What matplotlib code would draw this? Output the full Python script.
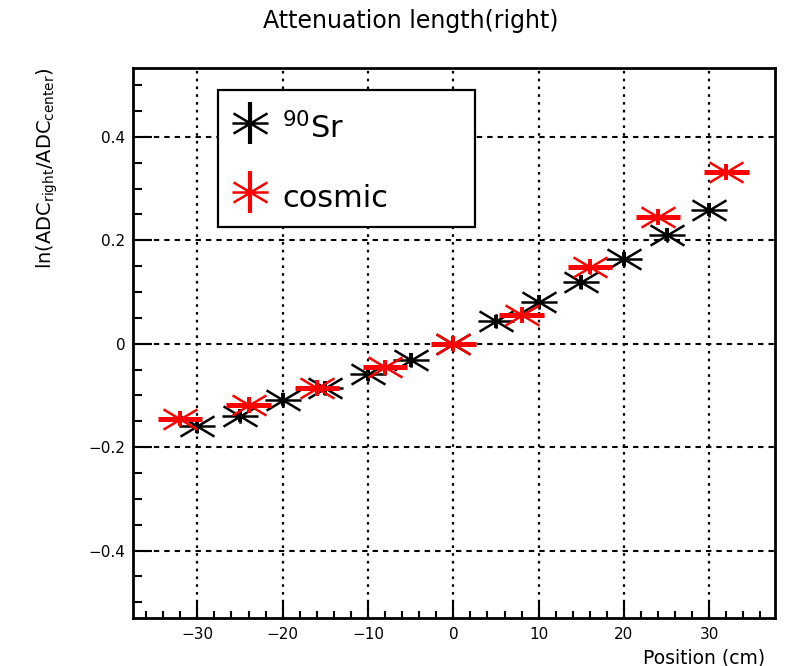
import matplotlib
matplotlib.use("Agg")
import matplotlib.pyplot as plt
import numpy as np
from matplotlib.path import Path
from matplotlib.patches import Rectangle
from matplotlib.ticker import MultipleLocator, FixedLocator, FuncFormatter

# data
sr_pos = [-30, -25, -20, -15, -10, -5, 0, 5, 10, 15, 20, 25, 30]
sr_val = [-0.160, -0.139, -0.108, -0.086, -0.059, -0.032, 0.0,
          0.043, 0.081, 0.119, 0.164, 0.211, 0.259]
sr_yerr = [0.013] * len(sr_pos)

cos_pos = [-32, -24, -16, -8, 0, 8, 16, 24, 32]
cos_val = [-0.145, -0.119, -0.086, -0.046, 0.0, 0.055, 0.149, 0.245, 0.332]
cos_xerr = [2.6] * len(cos_pos)
cos_yerr = [0.015] * len(cos_pos)

x_ticks = [-30, -20, -10, 0, 10, 20, 30]
y_ticks = [-0.4, -0.2, 0.0, 0.2, 0.4]

plt.rcParams['font.family'] = ['DejaVu Sans']

# ROOT-like asterisk marker, a bit wider than tall
M, L = Path.MOVETO, Path.LINETO
star = Path([(-1, 0), (1, 0),
             (-0.94, -0.56), (0.94, 0.56),
             (-0.94, 0.56), (0.94, -0.56),
             (0, -0.4), (0, 0.4)],
            [M, L, M, L, M, L, M, L])
MS = 26
MEW = 1.8

fig = plt.figure(figsize=(7.88, 6.66), dpi=100)
W, H = 788, 666
ax_l, ax_r, ax_t, ax_b = 132.5, 775, 68, 617.5
ax = fig.add_axes([ax_l / W, 1 - ax_b / H, (ax_r - ax_l) / W, (ax_b - ax_t) / H])

# grid (drawn as lines so style can differ per direction)
for xv in x_ticks:
    ax.axvline(xv, color='black', lw=1.6, ls=(0, (1.2, 2.3)), zorder=1)
for yv in y_ticks:
    ax.axhline(yv, color='black', lw=1.5, ls=(0, (2.6, 2.4)), zorder=1)

# 90Sr
ax.errorbar(sr_pos, sr_val, yerr=sr_yerr, fmt='none', ecolor='black',
            elinewidth=2.8, capsize=0, zorder=3)
ax.plot(sr_pos, sr_val, ls='none', marker=star, ms=MS, mew=MEW,
        mec='black', mfc='none', zorder=3)

# cosmic
ax.errorbar(cos_pos, cos_val, xerr=cos_xerr, fmt='none', ecolor='red',
            elinewidth=3.6, capsize=0, zorder=4)
ax.errorbar(cos_pos, cos_val, yerr=cos_yerr, fmt='none', ecolor='red',
            elinewidth=2.8, capsize=0, zorder=4)
ax.plot(cos_pos, cos_val, ls='none', marker=star, ms=MS, mew=MEW,
        mec='red', mfc='none', zorder=4)

ax.set_xlim(-37.6, 37.7)
ax.set_ylim(-0.5295, 0.533)

ax.xaxis.set_major_locator(FixedLocator(x_ticks))
ax.xaxis.set_minor_locator(MultipleLocator(2))
ax.yaxis.set_major_locator(FixedLocator(y_ticks))
ax.yaxis.set_minor_locator(MultipleLocator(0.05))
ax.yaxis.set_major_formatter(FuncFormatter(
    lambda v, p: '0' if abs(v) < 1e-9 else f'{v:.1f}'.replace('-', '\u2212')))

ax.tick_params(axis='x', which='major', direction='in', length=12.5, width=1.5,
               labelsize=11, pad=7)
ax.tick_params(axis='x', which='minor', direction='in', length=5, width=1.5)
ax.tick_params(axis='y', which='major', direction='in', length=13.5, width=1.5,
               labelsize=11, pad=5)
ax.tick_params(axis='y', which='minor', direction='in', length=6.5, width=1.5)

for sp in ax.spines.values():
    sp.set_linewidth(2.0)

ax.set_xlabel('Position (cm)', fontsize=13.5, loc='right')
ax.xaxis.set_label_coords(0.984, -0.056)
ax.set_ylabel(r'ln(ADC$_{\mathrm{right}}$/ADC$_{\mathrm{center}}$)',
              fontsize=14, loc='top')
ax.yaxis.set_label_coords(-0.113, 1.0)

fig.text(411 / W, 1 - 21 / H, 'Attenuation length(right)', fontsize=17,
         ha='center', va='center')

# legend box drawn by hand to match the ROOT look
def to_ax(px, py):
    return (px - ax_l) / (ax_r - ax_l), (ax_b - py) / (ax_b - ax_t)

bx0, by0 = to_ax(218, 227)
bx1, by1 = to_ax(475, 90)
ax.add_patch(Rectangle((bx0, by0), bx1 - bx0, by1 - by0, transform=ax.transAxes,
                       facecolor='white', edgecolor='black', lw=1.6, zorder=6,
                       clip_on=False))

entries = [('black', r'$^{90}$Sr', 123), ('red', 'cosmic', 192)]
for col, lab, py in entries:
    mx, my = to_ax(250, py)
    _, ytop = to_ax(250, py - 21)
    _, ybot = to_ax(250, py + 21)
    ax.plot([mx, mx], [ybot, ytop], color=col, lw=3, transform=ax.transAxes,
            zorder=7, clip_on=False, solid_capstyle='butt')
    ax.plot([mx], [my], marker=star, ms=MS, mew=MEW, mec=col, mfc='none',
            transform=ax.transAxes, zorder=7, clip_on=False)
    tx, ty = to_ax(282, py + 15)
    ax.text(tx, ty, lab, fontsize=22, ha='left', va='baseline',
            transform=ax.transAxes, zorder=8)

fig.savefig('out.png', dpi=100)
